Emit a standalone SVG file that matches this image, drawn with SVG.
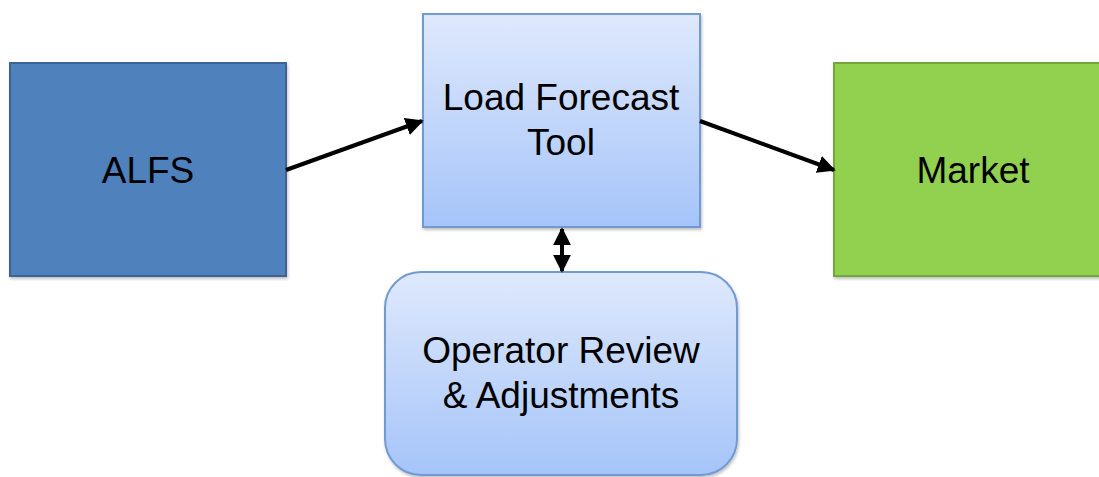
<svg xmlns="http://www.w3.org/2000/svg" width="1099" height="477" viewBox="0 0 1099 477">
<defs>
<linearGradient id="blueGrad" x1="0" y1="0" x2="0" y2="1">
<stop offset="0" stop-color="#dfe9fc"/>
<stop offset="1" stop-color="#a5c4f9"/>
</linearGradient>
<marker id="ah" viewBox="0 0 10 10" refX="9" refY="5" markerWidth="4.5" markerHeight="4.5" orient="auto-start-reverse" markerUnits="strokeWidth">
<path d="M0,0 L10,5 L0,10 z" fill="#000"/>
</marker>
<filter id="sh" x="-5%" y="-5%" width="115%" height="115%">
<feDropShadow dx="1" dy="2" stdDeviation="1.5" flood-color="#000" flood-opacity="0.25"/>
</filter>
</defs>
<style>
text{font-family:"Liberation Sans",Arial,sans-serif;font-size:37px;fill:#000;text-anchor:middle}
.conn{stroke:#000;stroke-width:4;fill:none}
</style>
<rect width="1099" height="477" fill="#fff"/>
<g id="alfs">
<rect x="10" y="63" width="276" height="213" fill="#4f81bd" stroke="#3a6396" stroke-width="2" filter="url(#sh)"/>
<text x="148" y="183">ALFS</text>
</g>
<g id="lft">
<rect x="423" y="14" width="277" height="213" fill="url(#blueGrad)" stroke="#709bd2" stroke-width="2" filter="url(#sh)"/>
<text x="561" y="110">Load Forecast</text>
<text x="561" y="155">Tool</text>
</g>
<g id="market">
<rect x="834" y="63" width="275" height="213" fill="#92d050" stroke="#71a83c" stroke-width="2" filter="url(#sh)"/>
<text x="973" y="183">Market</text>
</g>
<g id="operator">
<rect x="385" y="272" width="352" height="203" rx="36" ry="36" fill="url(#blueGrad)" stroke="#709bd2" stroke-width="2" filter="url(#sh)"/>
<text x="561" y="363">Operator Review</text>
<text x="561" y="408">&amp; Adjustments</text>
</g>
<g id="connectors">
<line class="conn" x1="286" y1="170" x2="422" y2="121" marker-end="url(#ah)"/>
<line class="conn" x1="700" y1="121" x2="834" y2="170" marker-end="url(#ah)"/>
<line class="conn" x1="562" y1="229" x2="562" y2="271" marker-start="url(#ah)" marker-end="url(#ah)"/>
</g>
</svg>
